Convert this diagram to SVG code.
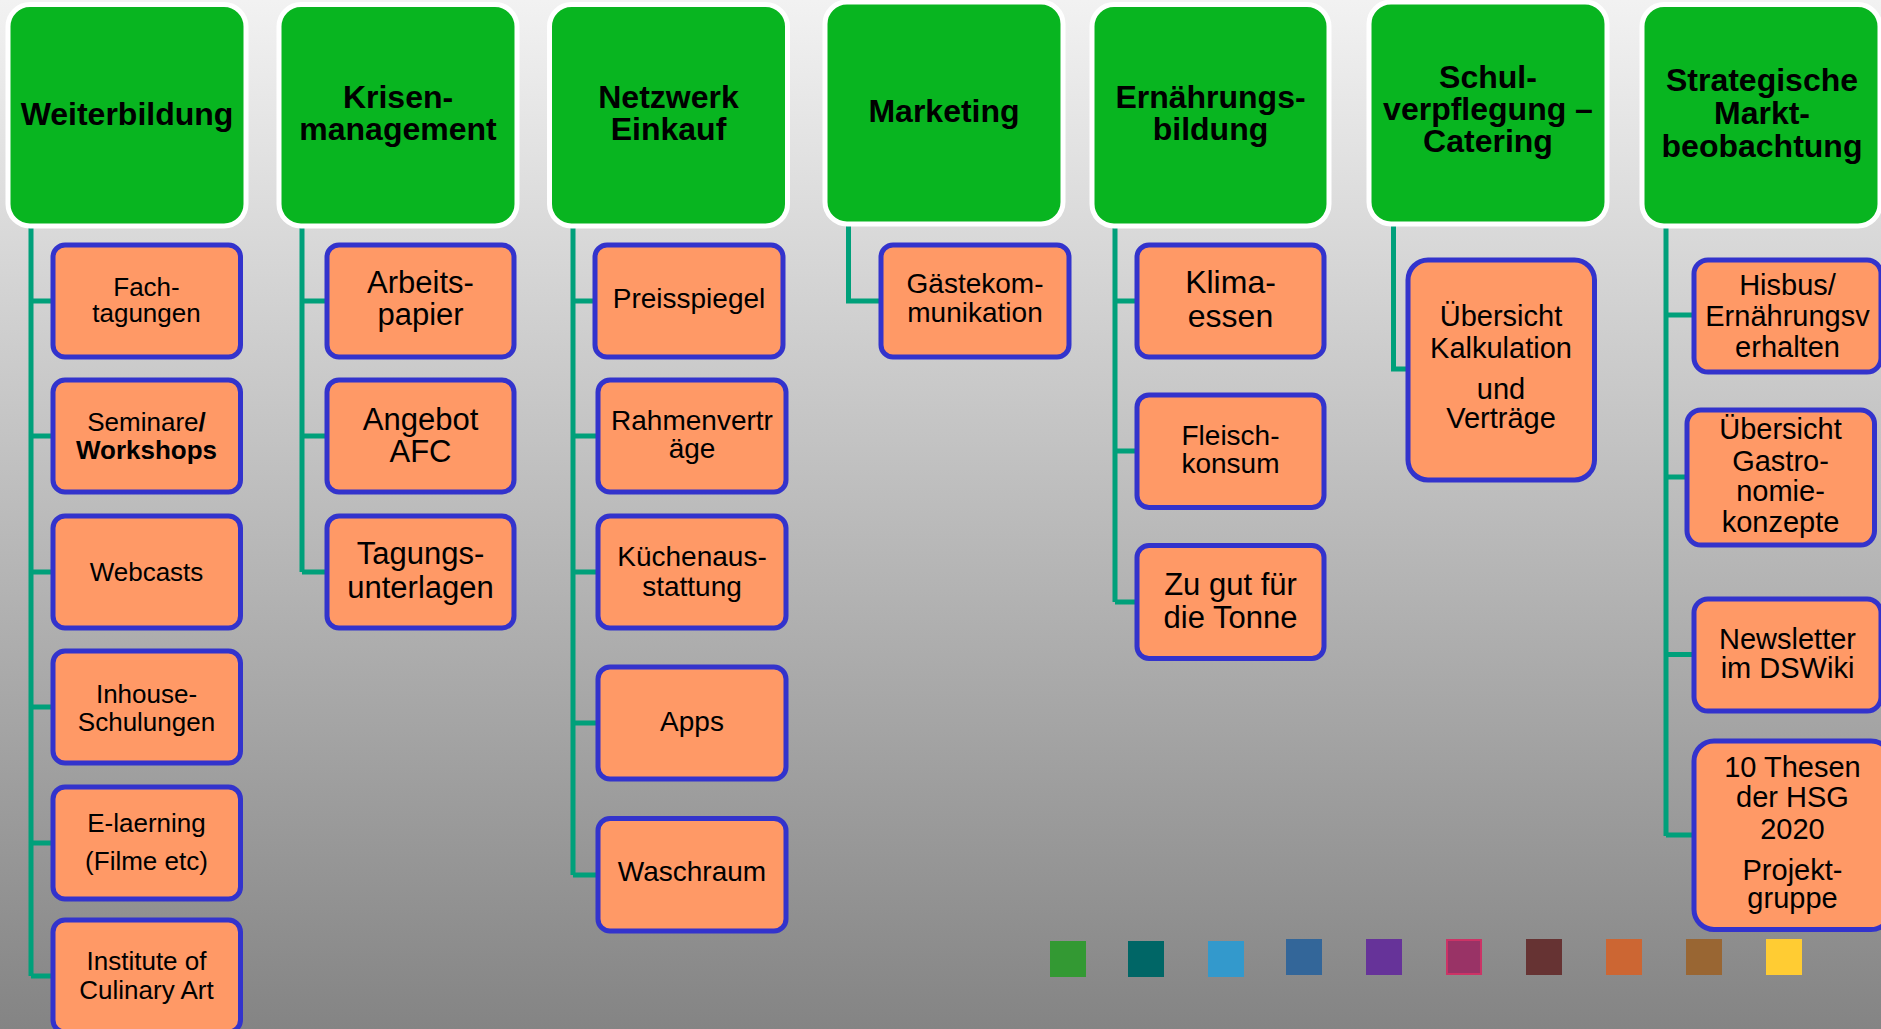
<svg xmlns="http://www.w3.org/2000/svg" width="1881" height="1029" viewBox="0 0 1881 1029">
<defs>
<linearGradient id="bg" x1="0" y1="0" x2="0" y2="1">
<stop offset="0" stop-color="#F2F2F2"/>
<stop offset="1" stop-color="#848484"/>
</linearGradient>
<style>
.hd{fill:#08B520;stroke:#FFFFFF;stroke-width:5}
.ch{fill:#FF9966;stroke:#3333CC;stroke-width:5}
.ht{font-family:"Liberation Sans",Arial,sans-serif;font-weight:bold;font-size:32px;fill:#000;text-anchor:middle}
.t{font-family:"Liberation Sans",Arial,sans-serif;fill:#000;text-anchor:middle}
.s26{font-size:26px}.s28{font-size:28px}.s29{font-size:29px}.s31{font-size:31px}.s32{font-size:32px}
.b{font-weight:bold}
.cn{fill:none;stroke:#00A07A;stroke-width:5}
</style>
</defs>
<rect x="0" y="0" width="1881" height="1029" fill="url(#bg)"/>

<g id="connectors">
<path class="cn" d="M31 226V976M31 301H53M31 436H53M31 572H53M31 707H53M31 843H53M31 976H53"/>
<path class="cn" d="M302 226V572M302 301H327M302 436H327M302 572H327"/>
<path class="cn" d="M573 226V875M573 301H595M573 436H598M573 572H598M573 723H598M573 875H598"/>
<path class="cn" d="M848.5 226V301H881"/>
<path class="cn" d="M1115 226V602M1115 301H1137M1115 451H1137M1115 602H1137"/>
<path class="cn" d="M1393.5 225V369H1408"/>
<path class="cn" d="M1666 226V836M1666 315H1694M1666 477H1687M1666 654.5H1694M1666 835H1694"/>
</g>

<g id="h-weiterbildung"><rect class="hd" x="8" y="4.5" width="238" height="221.5" rx="22"/><text class="ht" x="127" y="125">Weiterbildung</text></g>
<g id="h-krisen"><rect class="hd" x="279" y="4.5" width="238" height="221.5" rx="22"/><text class="ht" x="398" y="108">Krisen-</text><text class="ht" x="398" y="140">management</text></g>
<g id="h-netzwerk"><rect class="hd" x="549.5" y="4.5" width="238" height="221.5" rx="22"/><text class="ht" x="668.5" y="108">Netzwerk</text><text class="ht" x="668.5" y="140">Einkauf</text></g>
<g id="h-marketing"><rect class="hd" x="825" y="2" width="238" height="222" rx="22"/><text class="ht" x="944" y="122">Marketing</text></g>
<g id="h-ernaehrung"><rect class="hd" x="1092" y="4.5" width="237" height="221.5" rx="22"/><text class="ht" x="1210.5" y="108">Ernährungs-</text><text class="ht" x="1210.5" y="140">bildung</text></g>
<g id="h-schul"><rect class="hd" x="1369" y="2" width="238" height="222" rx="22"/><text class="ht" x="1488" y="88">Schul-</text><text class="ht" x="1488" y="120">verpflegung –</text><text class="ht" x="1488" y="152">Catering</text></g>
<g id="h-strategische"><rect class="hd" x="1642" y="4.5" width="238" height="221.5" rx="22"/><text class="ht" x="1762" y="91">Strategische</text><text class="ht" x="1762" y="124">Markt-</text><text class="ht" x="1762" y="157">beobachtung</text></g>

<g id="c-fachtagungen"><rect class="ch" x="53" y="245" width="187.5" height="112" rx="12"/><text class="t s26" x="146.5" y="296">Fach-</text><text class="t s26" x="146.5" y="322">tagungen</text></g>
<g id="c-seminare"><rect class="ch" x="53" y="380" width="187.5" height="112" rx="12"/><text class="t s26" x="146.5" y="431">Seminare<tspan class="b">/</tspan></text><text class="t s26 b" x="146.5" y="459">Workshops</text></g>
<g id="c-webcasts"><rect class="ch" x="53" y="516" width="187.5" height="112" rx="12"/><text class="t s26" x="146.5" y="581">Webcasts</text></g>
<g id="c-inhouse"><rect class="ch" x="53" y="651" width="187.5" height="112" rx="12"/><text class="t s26" x="146.5" y="703">Inhouse-</text><text class="t s26" x="146.5" y="731">Schulungen</text></g>
<g id="c-elaerning"><rect class="ch" x="53" y="787" width="187.5" height="112" rx="12"/><text class="t s26" x="146.5" y="832">E-laerning</text><text class="t s26" x="146.5" y="870">(Filme etc)</text></g>
<g id="c-institute"><rect class="ch" x="53" y="920" width="187.5" height="112" rx="12"/><text class="t s26" x="146.5" y="970">Institute of</text><text class="t s26" x="146.5" y="999">Culinary Art</text></g>

<g id="c-arbeitspapier"><rect class="ch" x="327" y="245" width="187" height="112" rx="12"/><text class="t s31" x="420.5" y="293">Arbeits-</text><text class="t s31" x="420.5" y="325">papier</text></g>
<g id="c-angebot"><rect class="ch" x="327" y="380" width="187" height="112" rx="12"/><text class="t s31" x="420.5" y="430">Angebot</text><text class="t s31" x="420.5" y="462">AFC</text></g>
<g id="c-tagungs"><rect class="ch" x="327" y="516" width="187" height="112" rx="12"/><text class="t s31" x="420.5" y="564">Tagungs-</text><text class="t s31" x="420.5" y="598">unterlagen</text></g>

<g id="c-preisspiegel"><rect class="ch" x="595" y="245" width="188" height="112" rx="12"/><text class="t s28" x="689" y="308">Preisspiegel</text></g>
<g id="c-rahmen"><rect class="ch" x="598" y="380" width="188" height="112" rx="12"/><text class="t s28" x="692" y="430">Rahmenvertr</text><text class="t s28" x="692" y="458">äge</text></g>
<g id="c-kuechen"><rect class="ch" x="598" y="516" width="188" height="112" rx="12"/><text class="t s28" x="692" y="566">Küchenaus-</text><text class="t s28" x="692" y="596">stattung</text></g>
<g id="c-apps"><rect class="ch" x="598" y="667" width="188" height="112" rx="12"/><text class="t s28" x="692" y="731">Apps</text></g>
<g id="c-waschraum"><rect class="ch" x="598" y="818.5" width="188" height="112.5" rx="12"/><text class="t s28" x="692" y="881">Waschraum</text></g>

<g id="c-gaeste"><rect class="ch" x="881" y="245" width="188" height="112" rx="12"/><text class="t s28" x="975" y="293">Gästekom-</text><text class="t s28" x="975" y="322">munikation</text></g>

<g id="c-klima"><rect class="ch" x="1137" y="245" width="187" height="112" rx="12"/><text class="t s32" x="1230.5" y="293">Klima-</text><text class="t s32" x="1230.5" y="327">essen</text></g>
<g id="c-fleisch"><rect class="ch" x="1137" y="395" width="187" height="112.5" rx="12"/><text class="t s28" x="1230.5" y="445">Fleisch-</text><text class="t s28" x="1230.5" y="473">konsum</text></g>
<g id="c-zugut"><rect class="ch" x="1137" y="545.5" width="187" height="113" rx="12"/><text class="t s31" x="1230.5" y="594.5">Zu gut für</text><text class="t s31" x="1230.5" y="628">die Tonne</text></g>

<g id="c-uebersicht-kalk"><rect class="ch" x="1408" y="260" width="186.5" height="220" rx="20"/><text class="t s29" x="1501" y="326">Übersicht</text><text class="t s29" x="1501" y="358">Kalkulation</text><text class="t s29" x="1501" y="399">und</text><text class="t s29" x="1501" y="428">Verträge</text></g>

<g id="c-hisbus"><rect class="ch" x="1694" y="260" width="187" height="112" rx="14"/><text class="t s29" x="1787.5" y="295">Hisbus/</text><text class="t s29" x="1787.5" y="326">Ernährungsv</text><text class="t s29" x="1787.5" y="357">erhalten</text></g>
<g id="c-gastro"><rect class="ch" x="1687" y="410" width="187.5" height="135" rx="14"/><text class="t s29" x="1780.5" y="439">Übersicht</text><text class="t s29" x="1780.5" y="470.5">Gastro-</text><text class="t s29" x="1780.5" y="501">nomie-</text><text class="t s29" x="1780.5" y="532">konzepte</text></g>
<g id="c-newsletter"><rect class="ch" x="1694" y="599" width="187" height="112" rx="14"/><text class="t s29" x="1787.5" y="648.5">Newsletter</text><text class="t s29" x="1787.5" y="678">im DSWiki</text></g>
<g id="c-thesen"><rect class="ch" x="1694" y="741" width="197" height="188.5" rx="20"/><text class="t s29" x="1792.5" y="777">10 Thesen</text><text class="t s29" x="1792.5" y="807">der HSG</text><text class="t s29" x="1792.5" y="838.5">2020</text><text class="t s29" x="1792.5" y="879.5">Projekt-</text><text class="t s29" x="1792.5" y="908">gruppe</text></g>

<g id="swatches">
<rect x="1050" y="941" width="36" height="36" fill="#339933"/>
<rect x="1128" y="941" width="36" height="36" fill="#006666"/>
<rect x="1208" y="941" width="36" height="36" fill="#3399CC"/>
<rect x="1286" y="939" width="36" height="36" fill="#336699"/>
<rect x="1366" y="939" width="36" height="36" fill="#663399"/>
<rect x="1447" y="940" width="34" height="34" fill="#993366" stroke="#CC3366" stroke-width="2"/>
<rect x="1526" y="939" width="36" height="36" fill="#663333"/>
<rect x="1606" y="939" width="36" height="36" fill="#CC6633"/>
<rect x="1686" y="939" width="36" height="36" fill="#996633"/>
<rect x="1766" y="939" width="36" height="36" fill="#FFCC33"/>
</g>
</svg>
